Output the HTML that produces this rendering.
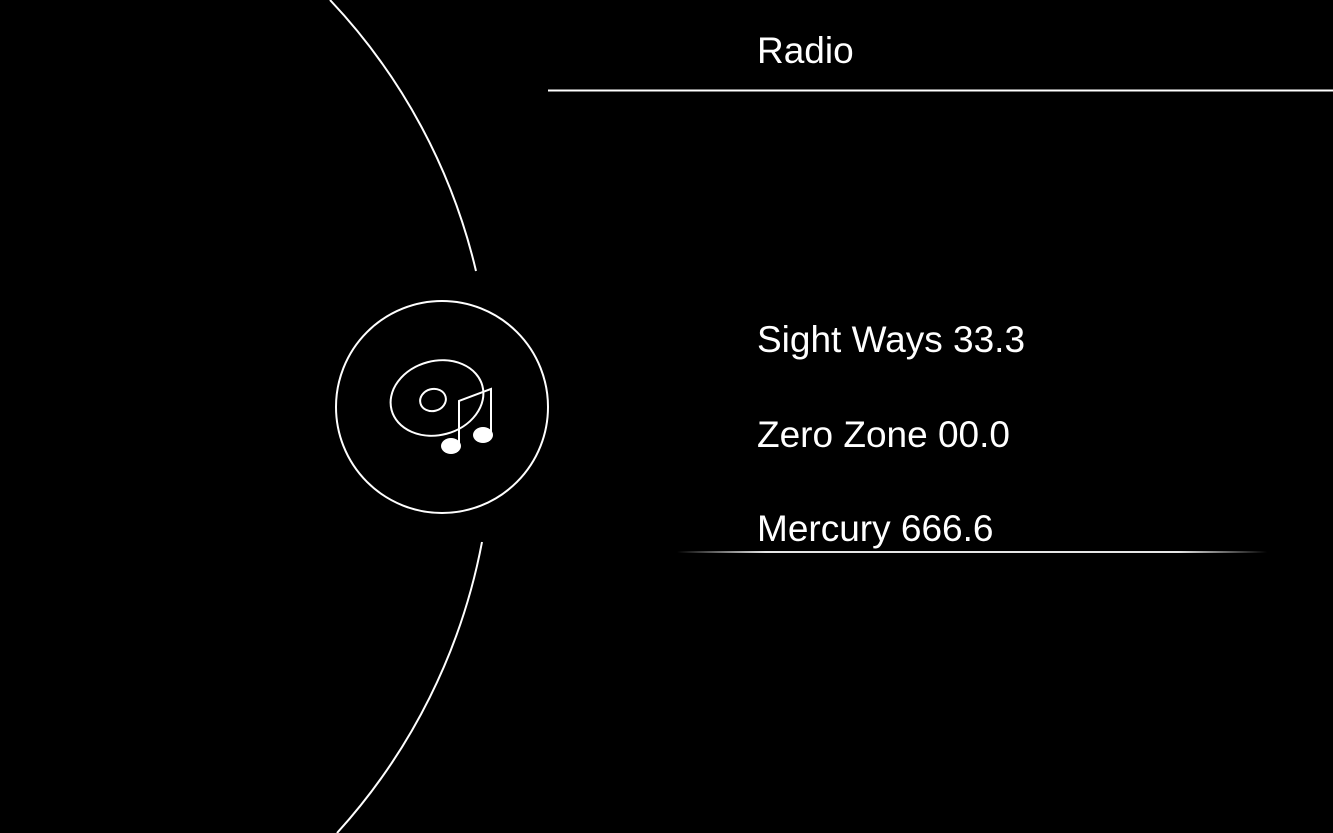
<!DOCTYPE html>
<html><head><meta charset="utf-8"><style>
html,body{margin:0;padding:0;background:#000;}
body{width:1333px;height:833px;position:relative;overflow:hidden;font-family:"Liberation Sans",sans-serif;color:#fff;}
.t{position:absolute;font-size:37px;line-height:1;white-space:nowrap;}
</style></head><body>
<svg width="1333" height="833" style="position:absolute;left:0;top:0">
  <defs>
    <linearGradient id="fade" x1="0" x2="1" y1="0" y2="0">
      <stop offset="0" stop-color="#fff" stop-opacity="0"/>
      <stop offset="0.15" stop-color="#fff" stop-opacity="0.9"/>
      <stop offset="0.85" stop-color="#fff" stop-opacity="0.9"/>
      <stop offset="1" stop-color="#fff" stop-opacity="0"/>
    </linearGradient>
  </defs>
  <path d="M330,0 A592,592 0 0 1 476,271" fill="none" stroke="#fff" stroke-width="2"/>
  <path d="M482,542 A598,598 0 0 1 337,833" fill="none" stroke="#fff" stroke-width="2"/>
  <line x1="548" y1="90.5" x2="1333" y2="90.5" stroke="#fff" stroke-width="2"/>
  <rect x="677" y="551" width="590" height="2" fill="url(#fade)"/>
  <g>
    <circle cx="442" cy="407" r="106" fill="none" stroke="#fff" stroke-width="2"/>
    <ellipse cx="437" cy="398" rx="47" ry="37" transform="rotate(-15 437 398)" fill="none" stroke="#fff" stroke-width="2"/>
    <ellipse cx="433" cy="400" rx="13" ry="11" transform="rotate(-15 433 400)" fill="none" stroke="#fff" stroke-width="2"/>
    <path d="M459,445 L459,401 L491,389 L491,432" fill="none" stroke="#fff" stroke-width="2"/>
    <ellipse cx="451" cy="446" rx="10" ry="8" fill="#fff"/>
    <ellipse cx="483" cy="435" rx="10" ry="8" fill="#fff"/>
  </g>
</svg>
<div class="t" style="left:757px;top:32px">Radio</div>
<div class="t" style="left:757px;top:321px">Sight Ways 33.3</div>
<div class="t" style="left:757px;top:416px">Zero Zone 00.0</div>
<div class="t" style="left:757px;top:510px">Mercury 666.6</div>
</body></html>
